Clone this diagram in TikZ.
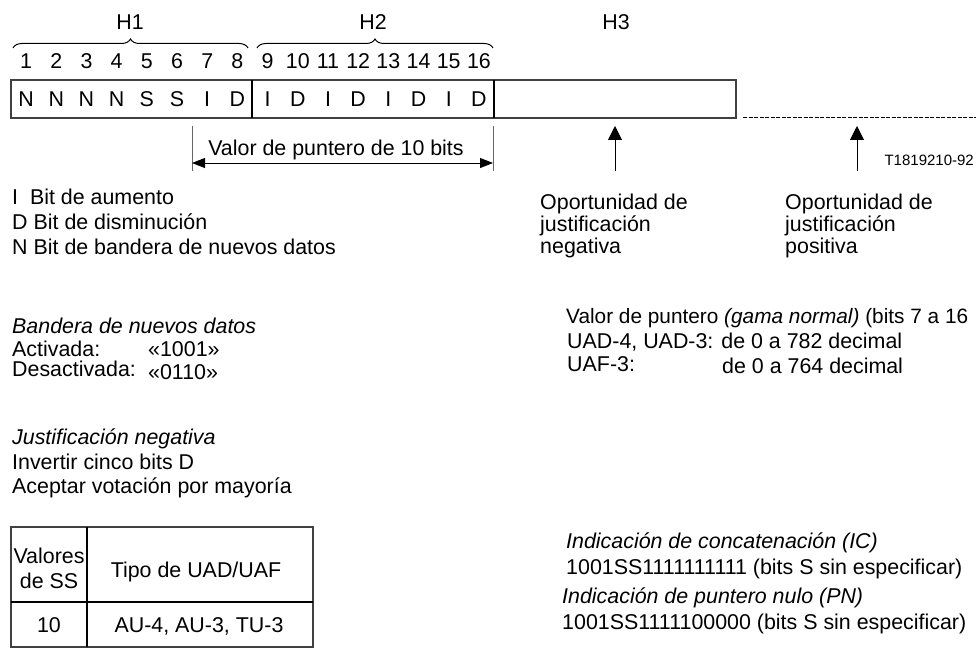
\documentclass[tikz,border=0pt]{standalone}
\usepackage{fontspec}
\setmainfont{Liberation Sans}
\usetikzlibrary{arrows.meta,decorations.pathreplacing}
\begin{document}
\begin{tikzpicture}[x=1pt,y=-1pt,
  font=\fontsize{21.4}{24}\selectfont,
  txt/.style={anchor=base west,inner sep=0pt},
  ctr/.style={anchor=base,inner sep=0pt},
  frame/.style={line width=1.2pt,draw=black!75},
  sep/.style={line width=1.4pt,draw=black},
  dim/.style={line width=0.9pt,draw=black!60},
  dimarrow/.style={line width=0.9pt,{Triangle[length=13pt,width=10pt]}-{Triangle[length=13pt,width=10pt]}},
  uparrow/.style={line width=0.9pt,-{Triangle[length=14pt,width=14pt]}},
  bracestyle/.style={decorate,decoration={brace,amplitude=9pt},line width=1pt}]
\useasboundingbox (0,0) rectangle (976,655);

% headers
\node[ctr] (h1) at (130,30) {H1};
\node[ctr] (h2) at (373,30) {H2};
\node[ctr] (h3) at (616,30) {H3};
\draw[bracestyle] (13,48) -- (248,48);
\draw[bracestyle] (257,48) -- (493,48);

% bit numbers and letters
\foreach \i/\l in {1/N,2/N,3/N,4/N,5/S,6/S,7/I,8/D,9/I,10/D,11/I,12/D,13/I,14/D,15/I,16/D}{
  \node[ctr] (n\i) at ({11+(\i-0.5)*30.1875},68.5) {\i};
  \node[ctr] (b\i) at ({11+(\i-0.5)*30.1875},107) {\l};
}
\draw[frame] (11,80) rectangle (736,118);
\draw[sep] (252,80) -- (252,118);
\draw[sep] (494,80) -- (494,118);
\draw[line width=1pt,dash pattern=on 4pt off 1.5pt] (743,117.5) -- (976,117.5);

% pointer value dimension
\coordinate (d1t) at (192,126);
\coordinate (d1b) at (192,171);
\coordinate (d2t) at (493,126);
\coordinate (d2b) at (493,171);
\draw[dim] (d1t) -- (d1b);
\draw[dim] (d2t) -- (d2b);
\coordinate (a1) at (192,163);
\coordinate (a2) at (493,163);
\draw[dimarrow] (a1) -- (a2);
\node[ctr] (pv) at (336,155.5) {Valor de puntero de 10 bits};

% justification arrows
\coordinate (j1b) at (615,171);
\coordinate (j1t) at (615,126);
\coordinate (j2b) at (857,171);
\coordinate (j2t) at (857,126);
\draw[uparrow] (j1b) -- (j1t);
\draw[uparrow] (j2b) -- (j2t);
\node[anchor=base east,inner sep=0pt,font=\fontsize{15}{18}\selectfont] (tid) at (974,165) {T1819210-92};

\node[txt] (opn1) at (540,209) {Oportunidad de};
\node[txt] (opn2) at (540,231) {justificación};
\node[txt] (opn3) at (540,253) {negativa};
\node[txt] (opp1) at (785,209) {Oportunidad de};
\node[txt] (opp2) at (785,231) {justificación};
\node[txt] (opp3) at (785,253) {positiva};

% legend
\node[txt] (li) at (12,204.5) {I\ \ Bit de aumento};
\node[txt] (ld) at (12,229.5) {D Bit de disminución};
\node[txt] (ln) at (12,254.5) {N Bit de bandera de nuevos datos};

% new data flag
\node[txt] (bnd) at (12,333.5) {\itshape Bandera de nuevos datos};
\node[txt] (act) at (12,356) {Activada:};
\node[txt] (actv) at (148,356) {«1001»};
\node[txt] (des) at (12,376) {Desactivada:};
\node[txt] (desv) at (148,379.5) {«0110»};

% negative justification
\node[txt] (jn) at (12,444.5) {\itshape Justificación negativa};
\node[txt] (inv) at (12,469.5) {Invertir cinco bits D};
\node[txt] (acp) at (12,493.5) {Aceptar votación por mayoría};

% table
\draw[frame] (11,527) rectangle (313,647);
\draw[sep] (11,602) -- (313,602);
\draw[sep] (87,527) -- (87,647);
\node[ctr] (tv1) at (49,563.5) {Valores};
\node[ctr] (tv2) at (49,588) {de SS};
\node[ctr] (tt) at (196,577.5) {Tipo de UAD/UAF};
\node[ctr] (t10) at (49,632) {10};
\node[ctr] (tau) at (199,632) {AU-4, AU-3, TU-3};

% pointer value range
\node[txt,font=\fontsize{20.8}{24}\selectfont] (vp) at (566,323.5) {Valor de puntero \textit{(gama normal)} (bits 7 a 16};
\node[txt] (uad) at (567,348.5) {UAD-4, UAD-3: de 0 a 782 decimal};
\node[txt] (uaf) at (567,371.5) {UAF-3:};
\node[txt] (uafv) at (722,373.5) {de 0 a 764 decimal};

% concatenation and null pointer
\node[txt] (ic) at (566,548.5) {\itshape Indicación de concatenación (IC)};
\node[txt] (icv) at (566,574.5) {1001SS1111111111 (bits S sin especificar)};
\node[txt] (pn) at (562,603.5) {\itshape Indicación de puntero nulo (PN)};
\node[txt] (pnv) at (562,629.5) {1001SS1111100000 (bits S sin especificar)};
\end{tikzpicture}
\end{document}
